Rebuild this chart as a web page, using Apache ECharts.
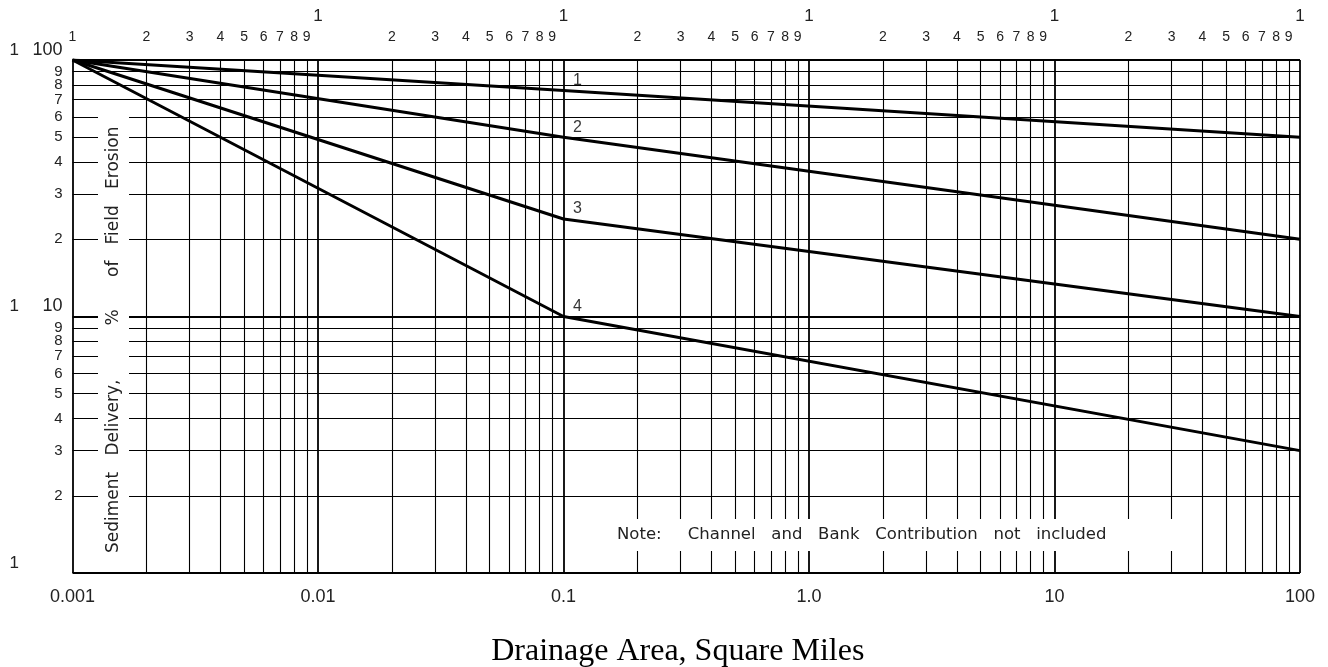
<!DOCTYPE html>
<html>
<head>
<meta charset="utf-8">
<title>Sediment Delivery</title>
<script src="https://cdn.jsdelivr.net/npm/echarts@6/dist/echarts.min.js"></script>
<style>
  html, body { margin: 0; padding: 0; background: #fff; }
  #chart { width: 1328px; height: 667px; }
</style>
</head>
<body>
<div id="chart"></div>
<script>
// curve values (drainage area in sq mi, delivery in %)
const areaX = [0.001, 0.1, 100]
const curve1 = [100, 76, 50]
const curve2 = [100, 50, 20]
const curve3 = [100, 24, 10]
const curve4 = [100, 10, 3]
const curveNames = ['1', '2', '3', '4']

// grid and tick labels
const xDecades = [0.001, 0.01, 0.1, 1, 10]
const yDecades = [1, 10]
const steps = [1, 2, 3, 4, 5, 6, 7, 8, 9]
const topDigits = ['1', '2', '3', '4', '5', '6', '7', '8', '9']
const bottomLabels = ['0.001', '0.01', '0.1', '1.0', '10', '100']
const yDecadeLabels = ['\u00a0', '10', '100']

const yTitle = 'Sediment   Delivery,          %      of   Field   Erosion'
const noteText = 'Note:     Channel   and   Bank   Contribution   not   included'
const xTitle = 'Drainage Area, Square Miles'

const ink = '#000'
const txt = '#222'
const sans = 'Liberation Sans'

const chart = echarts.init(document.getElementById('chart'), null, { renderer: 'canvas' })

// vertical grid lines, digits on top
const vLines = []
xDecades.forEach((d, di) => {
  steps.forEach((s, si) => {
    const raised = si === 0 && di > 0
    vLines.push({
      xAxis: +(d * s).toPrecision(3),
      lineStyle: { width: si === 0 ? 1.8 : 1.1 },
      label: {
        show: true, position: 'end', formatter: topDigits[si],
        distance: raised ? 35 : 16, fontSize: raised ? 17 : 14
      }
    })
  })
})
vLines.push({
  xAxis: 100, lineStyle: { width: 1.8 },
  label: { show: true, position: 'end', formatter: '1', distance: 35, fontSize: 17 }
})

// horizontal grid lines, minor digits on the left
const hLines = []
yDecades.forEach(d => {
  steps.forEach((s, si) => {
    hLines.push({
      yAxis: d * s,
      lineStyle: { width: si === 0 ? 1.8 : 1.1 },
      label: { show: si > 0, position: 'start', formatter: topDigits[si], distance: 10, fontSize: 15 }
    })
  })
})
hLines.push({ yAxis: 100, lineStyle: { width: 1.8 }, label: { show: false } })

const curves = [curve1, curve2, curve3, curve4]

const option = {
  animation: false,
  backgroundColor: '#fff',
  textStyle: { fontFamily: sans },
  grid: { left: 72.5, right: 28, top: 60, bottom: 94, containLabel: false, outerBoundsMode: 'none' },
  xAxis: {
    type: 'log', logBase: 10, min: 0.001, max: 100,
    axisLine: { show: false }, axisTick: { show: false }, splitLine: { show: false },
    axisLabel: {
      margin: 15, fontSize: 18, color: txt, fontFamily: sans,
      formatter: v => bottomLabels[Math.round(Math.log10(v)) + 3]
    },
    name: xTitle, nameLocation: 'middle', nameGap: 63,
    nameTextStyle: { fontFamily: 'Liberation Serif', fontSize: 32, color: '#000', padding: [0, 17, 0, 0] }
  },
  yAxis: {
    type: 'log', logBase: 10, min: 1, max: 100,
    axisLine: { show: false }, axisTick: { show: false }, splitLine: { show: false },
    axisLabel: {
      margin: 10, verticalAlign: 'bottom',
      formatter: v => '{c|1}{n|' + yDecadeLabels[Math.round(Math.log10(v))] + '}',
      rich: {
        c: { width: 22, align: 'left', fontSize: 17, lineHeight: 16, color: txt, fontFamily: sans },
        n: { width: 31, align: 'right', fontSize: 18, lineHeight: 20, color: txt, fontFamily: sans }
      }
    }
  },
  series: [
    {
      name: 'grid', type: 'line', data: [], z: 1, silent: true,
      markLine: {
        z: 1, silent: true, symbol: 'none', animation: false, precision: 8,
        lineStyle: { color: ink, type: 'solid' },
        label: { color: txt, fontFamily: sans },
        emphasis: { disabled: true },
        data: vLines.concat(hLines)
      }
    }
  ].concat(curves.map((c, i) => ({
    name: 'curve ' + curveNames[i], type: 'line', z: 10, silent: true,
    symbol: 'none',
    lineStyle: { color: ink, width: 3 },
    data: areaX.map((x, j) => [x, c[j]])
  }))).concat([
    {
      name: 'labels', type: 'scatter', z: 12, silent: true,
      symbolSize: 1, itemStyle: { color: 'rgba(255,255,255,0)' },
      label: {
        show: true, position: 'inside', offset: [14, -10], formatter: '{b}',
        fontSize: 16, color: '#000', fontFamily: sans
      },
      data: curves.map((c, i) => ({ name: curveNames[i], value: [areaX[1], c[1]] }))
    }
  ]),
  graphic: [
    {
      type: 'text', x: 113.5, y: 333, rotation: Math.PI / 2, z: 50, silent: true,
      style: {
        text: yTitle, fontFamily: 'DejaVu Sans', fontSize: 17, fill: txt,
        align: 'center', verticalAlign: 'middle', textAlign: 'center', textVerticalAlign: 'middle',
        lineHeight: 18, backgroundColor: '#fff', padding: [6.5, 20, 6.5, 6.5]
      }
    },
    {
      type: 'text', x: 597, y: 535, z: 50, silent: true,
      style: {
        text: noteText, fontFamily: 'DejaVu Sans', fontSize: 16.5, fill: txt,
        align: 'left', verticalAlign: 'middle', textAlign: 'left', textVerticalAlign: 'middle',
        lineHeight: 18, backgroundColor: '#fff', padding: [7, 85, 7, 20]
      }
    }
  ]
}

chart.setOption(option)
</script>
</body>
</html>
